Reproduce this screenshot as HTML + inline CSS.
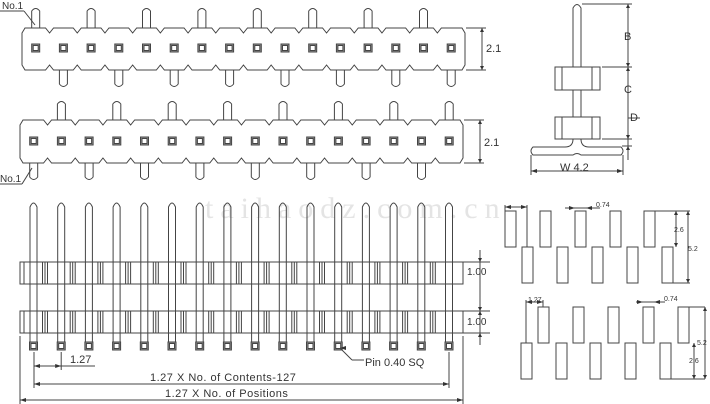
<!DOCTYPE html>
<html><head><meta charset="utf-8"><style>
html,body{margin:0;padding:0;background:#fff;width:710px;height:404px;overflow:hidden}
svg{display:block}
text{font-family:"Liberation Sans",sans-serif;fill:#333}
</style></head><body>
<svg id="s" width="710" height="404" viewBox="0 0 710 404" xmlns="http://www.w3.org/2000/svg" fill="none" stroke="#444" stroke-width="1">
<text x="205" y="218" style="font-family:'Liberation Serif',serif;font-size:30px;fill:#e4e4e4;letter-spacing:7px" stroke="none">taihaodz.com.cn</text>
<g id="g"></g>
<!-- labels -->
<text x="2" y="9" font-size="10" stroke="none">No.1</text>
<line x1="0" y1="11" x2="24" y2="11"/><line x1="24" y1="11" x2="35" y2="25"/>
<text x="0" y="182" font-size="10" stroke="none">No.1</text>
<line x1="0" y1="184" x2="22" y2="184"/><line x1="22" y1="184" x2="32" y2="168"/>
<text x="486" y="52" font-size="11" stroke="none">2.1</text>
<text x="484" y="146" font-size="11" stroke="none">2.1</text>
<text x="467" y="275" font-size="10" stroke="none">1.00</text>
<text x="467" y="325" font-size="10" stroke="none">1.00</text>
<text x="70" y="363" font-size="11" stroke="none">1.27</text>
<text x="150" y="381" font-size="11" stroke="none" letter-spacing="0.5">1.27 X No. of Contents-127</text>
<text x="165" y="397" font-size="11" stroke="none" letter-spacing="0.5">1.27 X No. of Positions</text>
<text x="365" y="366" font-size="11" stroke="none">Pin 0.40 SQ</text>
<text x="624" y="40" font-size="11" stroke="none">B</text>
<text x="624" y="93" font-size="11" stroke="none">C</text>
<text x="630" y="121" font-size="11" stroke="none">D</text>
<text x="560" y="171" font-size="11" stroke="none">W  4.2</text>
<text x="596" y="207" font-size="7" stroke="none">0.74</text>
<text x="674" y="232" font-size="7" stroke="none">2.6</text>
<text x="688" y="251" font-size="7" stroke="none">5.2</text>
<text x="528" y="302" font-size="7" stroke="none">1.27</text>
<text x="664" y="301" font-size="7" stroke="none">0.74</text>
<text x="697" y="345" font-size="7" stroke="none">5.2</text>
<text x="689" y="363" font-size="7" stroke="none">2.6</text>
</svg>
<script>
var g=document.getElementById('g'),h='';
function L(a,b,c,d){h+='<line x1="'+a+'" y1="'+b+'" x2="'+c+'" y2="'+d+'"/>';}
function R(x,y,w,hh,f){h+='<rect x="'+x+'" y="'+y+'" width="'+w+'" height="'+hh+'"'+(f?' fill="'+f+'"':'')+'/>';}
function arr(x,y,dir){var s=4;var p;
 if(dir=='u')p=[x,y,x-2,y+s,x+2,y+s];else if(dir=='d')p=[x,y,x-2,y-s,x+2,y-s];
 else if(dir=='l')p=[x,y,x+s+2,y-2,x+s+2,y+2];else p=[x,y,x-s-2,y-2,x-s-2,y+2];
 h+='<polygon points="'+p.join(',')+'" fill="#333" stroke="none"/>';}
var P=27.7;
function pad(cx,cy){R(cx-4,cy-4,8,8,'#999');R(cx-2.5,cy-2.5,5,5,'#fff');}
function body(x0,x1,y0,y1,first){
 var d='M'+(x0+3)+','+y0;
 for(var i=0;i<15;i++){var m=first+i*P+P/2;d+=' L'+(m-4)+','+y0+' L'+m+','+(y0+5)+' L'+(m+4)+','+y0;}
 d+=' L'+(x1-3)+','+y0+' L'+x1+','+(y0+5)+' L'+x1+','+(y1-5)+' L'+(x1-3)+','+y1;
 for(var i=14;i>=0;i--){var m=first+i*P+P/2;d+=' L'+(m+4)+','+y1+' L'+m+','+(y1-5)+' L'+(m-4)+','+y1;}
 d+=' L'+(x0+3)+','+y1+' L'+x0+','+(y1-5)+' L'+x0+','+(y0+5)+' Z';
 h+='<path d="'+d+'"/>';}
function pinUp(cx,yt,yb){h+='<path d="M'+(cx-4)+','+yb+' L'+(cx-4)+','+(yt+3)+' Q'+cx+','+(yt-2)+' '+(cx+4)+','+(yt+3)+' L'+(cx+4)+','+yb+'"/>';}
function pinDn(cx,yt,yb){h+='<path d="M'+(cx-4)+','+yt+' L'+(cx-4)+','+(yb-3)+' Q'+cx+','+(yb+2)+' '+(cx+4)+','+(yb-3)+' L'+(cx+4)+','+yt+'"/>';}
// top view 1
var f1=35.7;
for(var i=0;i<16;i++){var cx=f1+i*P;if(i%2==0)pinUp(cx,8,28);else pinDn(cx,70,87);}
body(22,465,28,70,f1);
for(var i=0;i<16;i++)pad(f1+i*P,48);
// view 2
var f2=33.7;
for(var i=0;i<16;i++){var cx=f2+i*P;if(i%2==1)pinUp(cx,101,120);else pinDn(cx,163,180);}
body(20,463,120,163,f2);
for(var i=0;i<16;i++)pad(f2+i*P,141);
// dims 2.1
L(466,28,486,28);L(466,70,486,70);L(482,28,482,70);arr(482,28,'u');arr(482,70,'d');
L(464,120,484,120);L(464,163,484,163);L(480,120,480,163);arr(480,120,'u');arr(480,163,'d');
// front view
var f3=33.5;
for(var i=0;i<16;i++){var cx=f3+i*P;
 h+='<path d="M'+(cx-3.5)+',345 L'+(cx-3.5)+',207 Q'+cx+',199 '+(cx+3.5)+',207 L'+(cx+3.5)+',345"/>';}
[[262,284],[311,333]].forEach(function(b){
 h+='<rect x="20" y="'+b[0]+'" width="443" height="'+(b[1]-b[0])+'" fill="#fff"/>';
 for(var i=0;i<16;i++){var cx=f3+i*P;L(cx-3.5,b[0],cx-3.5,b[1]);L(cx+3.5,b[0],cx+3.5,b[1]);
  if(i<15){L(cx+9,b[0],cx+9,b[1]);L(cx+11.5,b[0],cx+11.5,b[1]);L(cx+14,b[0],cx+14,b[1]);}}
 L(24,b[0],24,b[1]);});
for(var i=0;i<16;i++)pad(f3+i*P,346);
// 1.00 dims
L(463,262,490,262);L(463,311,490,311);L(463,333,490,333);L(480,250,480,345);
arr(480,262,'d');arr(480,311,'u');arr(480,311,'d');arr(480,333,'u');
// bottom dims
L(34,352,34,388);L(61.2,352,61.2,370);L(34,366,61.2,366);arr(34,366,'l');arr(61.2,366,'r');L(61.2,366,95,366);
L(20,336,20,404);L(449,352,449,388);L(463,336,463,404);
L(34,384,449,384);arr(34,384,'l');arr(449,384,'r');
L(20,400,463,400);arr(20,400,'l');arr(463,400,'r');
L(340,348,352,360);arr(340,348,'l');L(352,360,364,360);
// side view
h+='<path d="M573,140 L573,8 Q577,1 581,8 L581,140"/>';
R(555,67,45,23,'#fff');L(562,67,562,90);L(592,67,592,90);
R(555,117,45,22,'#fff');L(562,117,562,139);L(592,117,592,139);
h+='<path d="M573,139 Q573,147 565,147 L533,147 Q529,151 533,155 L573,155 Q577,152 581,155 L621,155 Q625,151 621,147 L589,147 Q581,147 581,139"/>';
L(582,4,632,4);L(602,67,632,67);L(602,139,632,139);L(622,146,632,146);
L(628,4,628,160);arr(628,4,'u');arr(628,67,'d');arr(628,67,'u');arr(628,139,'d');arr(628,146,'u');
L(628,118,640,118);
L(531,155,531,175);L(623,155,623,175);L(531,171,623,171);arr(531,171,'l');arr(623,171,'r');
// footprint 1
[505,540,575,610,644].forEach(function(x){R(x,211,11,36);});
[522,557,592,627,662].forEach(function(x){R(x,247,11,36);});
L(505,205,505,211);L(527,205,527,247);L(505,207,527,207);arr(505,207,'l');arr(527,207,'r');
L(565,208,600,208);arr(575,208,'r');arr(586,208,'l');
L(655,211,690,211);L(673,283,690,283);L(676,211,676,247);L(688,211,688,283);
arr(676,211,'u');arr(676,247,'d');arr(688,211,'u');arr(688,283,'d');
// footprint 2
[538,573,608,643,678].forEach(function(x){R(x,307,11,36);});
[521,556,590,625,660].forEach(function(x){R(x,343,11,36);});
L(526,300,526,343);L(543,300,543,307);L(526,302,543,302);arr(526,302,'l');arr(543,302,'r');
L(636,302,665,302);arr(643,302,'r');arr(654,302,'l');
L(689,307,705,307);L(671,379,705,379);L(705,307,705,379);L(694,343,694,379);
arr(705,307,'u');arr(705,379,'d');arr(694,343,'u');arr(694,379,'d');
g.innerHTML=h;
</script>
</body></html>
